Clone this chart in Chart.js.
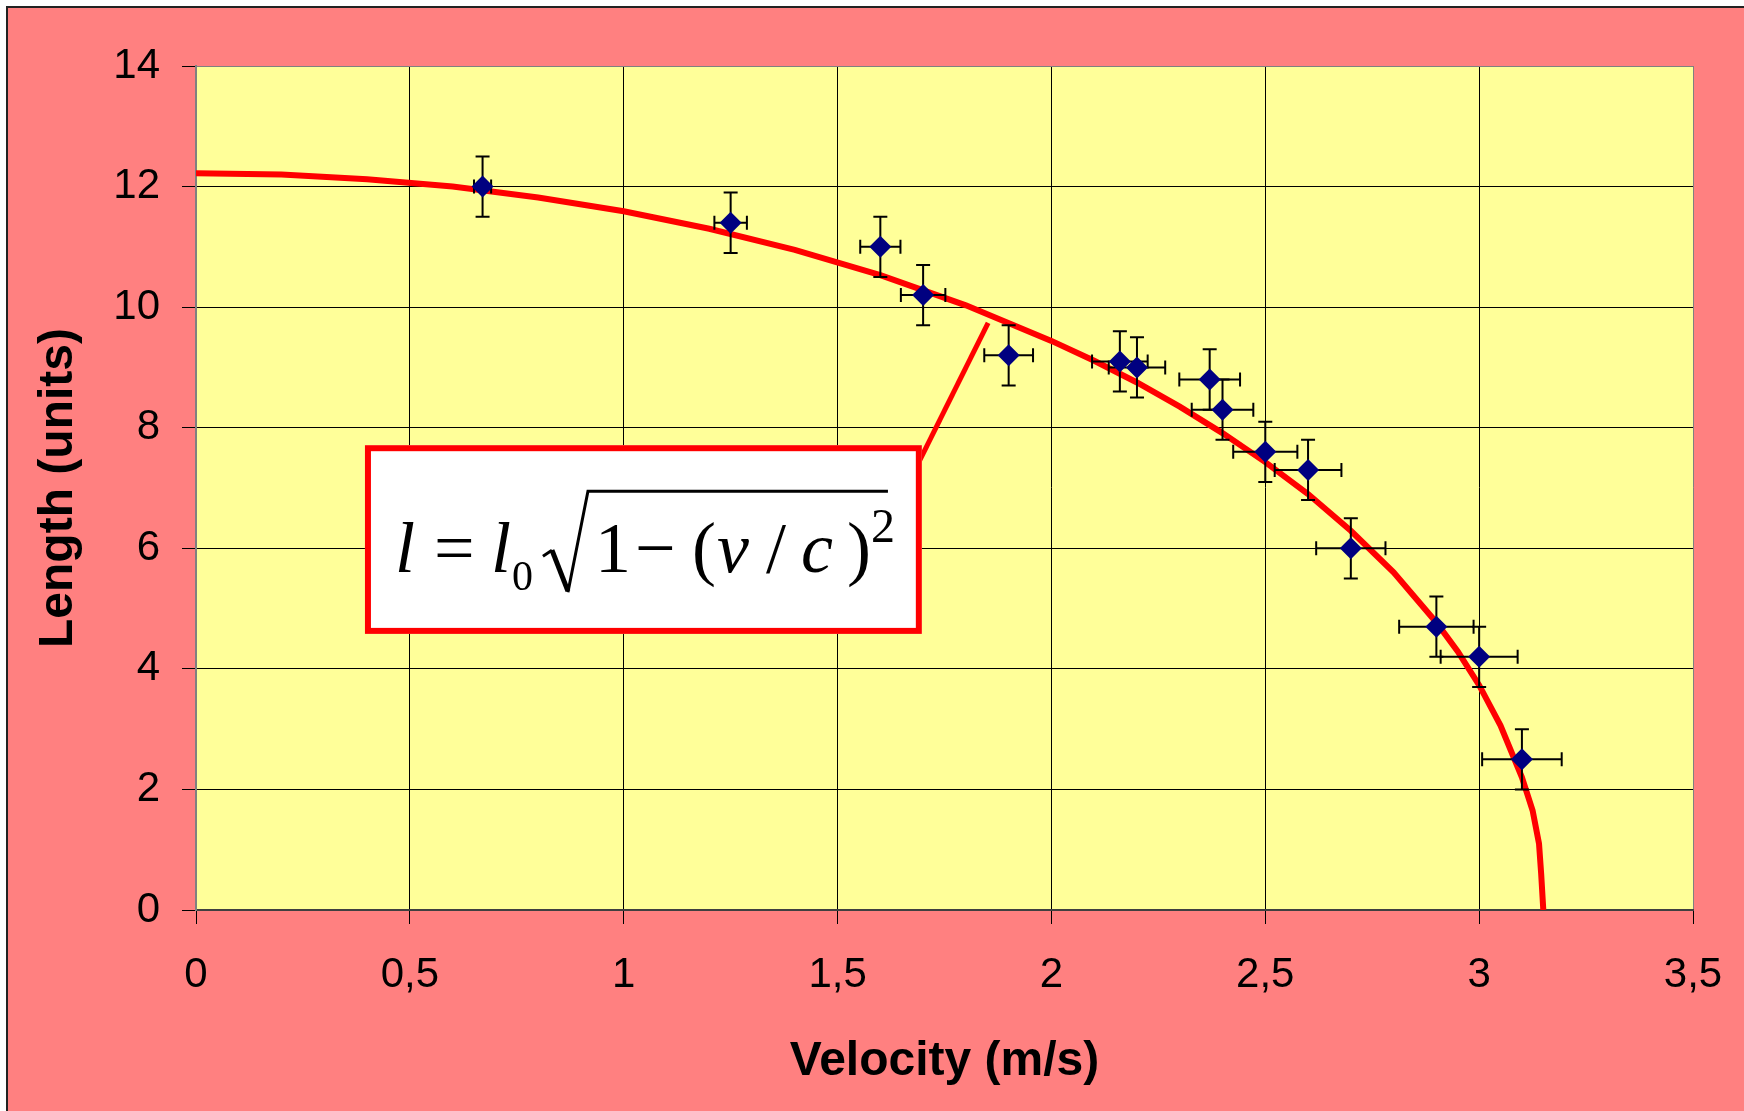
<!DOCTYPE html>
<html>
<head>
<meta charset="utf-8">
<script src="https://cdn.jsdelivr.net/npm/chart.js@4.4.1/dist/chart.umd.min.js"></script>
<style>
  html, body { margin: 0; padding: 0; background: #fff; }
  canvas { display: block; }
</style>
</head>
<body>
<canvas id="lengthChart" width="1744" height="1111"></canvas>
<script>
// measured points (velocity in m/s, length in units) with their error bars
const speed     = [0.67, 1.25, 1.6, 1.7, 1.9, 2.16, 2.2, 2.37, 2.4, 2.5, 2.6, 2.7, 2.9, 3.0, 3.1];
const length    = [12.0, 11.4, 11.0, 10.2, 9.2, 9.1, 9.0, 8.8, 8.3, 7.6, 7.3, 6.0, 4.7, 4.2, 2.5];
const speedErr  = [0.02, 0.038, 0.047, 0.052, 0.057, 0.065, 0.066, 0.071, 0.072, 0.075, 0.078, 0.081, 0.087, 0.09, 0.093];
const lengthErr = [0.5, 0.5, 0.5, 0.5, 0.5, 0.5, 0.5, 0.5, 0.5, 0.5, 0.5, 0.5, 0.5, 0.5, 0.5];

// red curve
const fitSpeed  = [0, 0.2, 0.4, 0.6, 0.8, 1.0, 1.2, 1.4, 1.6, 1.8, 2.0, 2.1, 2.2, 2.3, 2.4, 2.5, 2.6, 2.7, 2.8, 2.9, 2.95, 3.0, 3.05, 3.1, 3.125, 3.14, 3.145, 3.15];
const fitLength = [12.22, 12.2, 12.12, 12.0, 11.82, 11.59, 11.3, 10.95, 10.53, 10.03, 9.44, 9.11, 8.75, 8.35, 7.91, 7.43, 6.9, 6.29, 5.6, 4.77, 4.29, 3.73, 3.06, 2.2, 1.65, 1.1, 0.6, 0];

// axis tick labels
const velocityTicks = ['0', '0,5', '1', '1,5', '2', '2,5', '3', '3,5'];
const lengthTicks   = [0, 2, 4, 6, 8, 10, 12, 14];

// formula box, in data units
const note = { left: 0.395, right: 1.697, top: 7.71, bottom: 4.58, tipX: 1.852, tipY: 9.74 };

const sans = '"Liberation Sans", Arial, sans-serif';
const serif = '"Liberation Serif", "Times New Roman", serif';

const background = {
  id: 'background',
  beforeDraw(chart) {
    const {ctx, width, height, chartArea: a} = chart;
    ctx.save();
    ctx.fillStyle = '#fff';
    ctx.fillRect(0, 0, width, height);
    ctx.fillStyle = '#FF8080';
    ctx.fillRect(7, 7, width, height);
    ctx.strokeStyle = '#222';
    ctx.lineWidth = 2;
    ctx.beginPath();
    ctx.moveTo(7, height); ctx.lineTo(7, 7); ctx.lineTo(width, 7);
    ctx.stroke();
    ctx.fillStyle = '#FFFF99';
    ctx.fillRect(a.left, a.top, a.right - a.left, a.bottom - a.top);
    ctx.restore();
  }
};

const errorBars = {
  id: 'errorBars',
  beforeDatasetDraw(chart, args) {
    if (args.index !== 1) return;
    const {ctx, scales: {x, y}} = chart;
    const cap = 7;
    ctx.save();
    ctx.strokeStyle = '#000';
    ctx.lineWidth = 2;
    speed.forEach((v, i) => {
      const px = x.getPixelForValue(v), py = y.getPixelForValue(length[i]);
      const xl = x.getPixelForValue(v - speedErr[i]), xr = x.getPixelForValue(v + speedErr[i]);
      const yt = y.getPixelForValue(length[i] + lengthErr[i]), yb = y.getPixelForValue(length[i] - lengthErr[i]);
      ctx.beginPath();
      ctx.moveTo(xl, py); ctx.lineTo(xr, py);
      ctx.moveTo(xl, py - cap); ctx.lineTo(xl, py + cap);
      ctx.moveTo(xr, py - cap); ctx.lineTo(xr, py + cap);
      ctx.moveTo(px, yt); ctx.lineTo(px, yb);
      ctx.moveTo(px - cap, yt); ctx.lineTo(px + cap, yt);
      ctx.moveTo(px - cap, yb); ctx.lineTo(px + cap, yb);
      ctx.stroke();
    });
    ctx.restore();
  }
};

const formulaBox = {
  id: 'formulaBox',
  afterDatasetsDraw(chart) {
    const {ctx, scales: {x, y}} = chart;
    const L = x.getPixelForValue(note.left), R = x.getPixelForValue(note.right);
    const T = y.getPixelForValue(note.top), B0 = y.getPixelForValue(note.bottom);
    ctx.save();
    // pointer
    ctx.strokeStyle = '#FF0000';
    ctx.lineWidth = 5;
    ctx.beginPath();
    ctx.moveTo(R - 3, T + 17);
    ctx.lineTo(x.getPixelForValue(note.tipX), y.getPixelForValue(note.tipY));
    ctx.stroke();
    // box
    ctx.fillStyle = '#fff';
    ctx.fillRect(L, T, R - L, B0 - T);
    ctx.lineWidth = 6;
    ctx.strokeRect(L + 3, T + 3, R - L - 6, B0 - T - 6);

    // l = l0 sqrt(1 - (v / c)^2)
    const B = T + 127;
    ctx.fillStyle = '#000';
    ctx.textBaseline = 'alphabetic';
    ctx.textAlign = 'left';
    ctx.font = 'italic 72px ' + serif;
    ctx.fillText('l', L + 30, B);
    ctx.fillText('l', L + 126, B);
    ctx.fillText('v', L + 352, B);
    ctx.fillText('c', L + 436, B);
    ctx.font = '72px ' + serif;
    ctx.fillText('=', L + 69, B);
    ctx.fillText('1', L + 230, B);
    ctx.fillText('\u2212', L + 270, B);
    ctx.fillText('(', L + 327, B);
    ctx.fillText('/', L + 401, B);
    ctx.fillText(')', L + 482, B);
    ctx.font = '42px ' + serif;
    ctx.fillText('0', L + 147, B + 18);
    ctx.font = '48px ' + serif;
    ctx.fillText('2', L + 506, B - 30);
    // radical sign
    ctx.strokeStyle = '#000';
    ctx.lineWidth = 3;
    ctx.beginPath();
    ctx.moveTo(L + 178, B - 16);
    ctx.lineTo(L + 187, B - 22);
    ctx.stroke();
    ctx.lineWidth = 5;
    ctx.beginPath();
    ctx.moveTo(L + 187, B - 22);
    ctx.lineTo(L + 203, B + 19);
    ctx.stroke();
    ctx.lineWidth = 3;
    ctx.beginPath();
    ctx.moveTo(L + 203, B + 20);
    ctx.lineTo(L + 223, B - 81);
    ctx.lineTo(L + 523, B - 81);
    ctx.stroke();
    ctx.restore();
  }
};

const gridColor = (edge) => (c) => (c.tick && c.tick.value === edge) ? '#808080' : '#000';

new Chart(document.getElementById('lengthChart'), {
  type: 'scatter',
  data: {
    datasets: [
      {
        label: 'fit',
        data: fitSpeed.map((v, i) => ({x: v, y: fitLength[i]})),
        showLine: true,
        borderColor: '#FF0000',
        borderWidth: 6,
        pointRadius: 0,
        tension: 0,
        fill: false,
        order: 1
      },
      {
        label: 'measured',
        data: speed.map((v, i) => ({x: v, y: length[i]})),
        pointStyle: 'rectRot',
        pointRadius: 11,
        backgroundColor: '#000080',
        borderColor: '#000080',
        borderWidth: 0,
        order: 0
      }
    ]
  },
  options: {
    responsive: false,
    animation: false,
    devicePixelRatio: 1,
    layout: { padding: { left: 0, top: 66, right: 51, bottom: 0 } },
    plugins: { legend: { display: false }, tooltip: { enabled: false } },
    scales: {
      x: {
        type: 'linear', min: 0, max: 3.5,
        afterFit: (s) => { s.height = 201; s.paddingRight = 0; s.paddingLeft = 0; },
        ticks: {
          stepSize: 0.5, maxRotation: 0, padding: 26, color: '#000',
          font: { family: sans, size: 42 },
          callback: (v) => velocityTicks[Math.round(v * 2)]
        },
        grid: { color: gridColor(3.5), lineWidth: 1, tickLength: 14, tickColor: '#000' },
        border: { color: '#404040', width: 2 },
        title: {
          display: true, text: 'Velocity (m/s)', color: '#000',
          font: { family: sans, size: 48, weight: 'bold' },
          padding: { top: 0, bottom: 20 }
        }
      },
      y: {
        type: 'linear', min: 0, max: 14,
        afterFit: (s) => { s.width = 196; },
        afterBuildTicks: (s) => { s.ticks = lengthTicks.map(v => ({value: v})); },
        ticks: {
          padding: 22, color: '#000',
          font: { family: sans, size: 42 }
        },
        grid: { color: gridColor(14), lineWidth: 1, tickLength: 14, tickColor: '#000' },
        border: { color: '#808080', width: 2 },
        title: {
          display: true, text: 'Length (units)', color: '#000',
          font: { family: sans, size: 48, weight: 'bold' },
          padding: { top: 30, bottom: 0 }
        }
      }
    }
  },
  plugins: [background, errorBars, formulaBox]
});
</script>
</body>
</html>
